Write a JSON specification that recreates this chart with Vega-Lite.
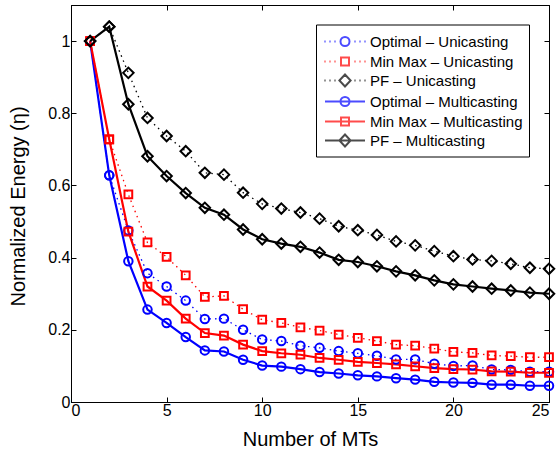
{
  "$schema": "https://vega.github.io/schema/vega-lite/v6.json",
  "width": 478,
  "height": 397,
  "autosize": "none",
  "padding": {"left": 71, "top": 5, "right": 10, "bottom": 53},
  "config": {
    "font": "Liberation Sans",
    "view": {"stroke": "black", "strokeWidth": 1}
  },
  "data": {"values": [
    {"n":1,"e":1,"s":"OU"},{"n":2,"e":0.628,"s":"OU"},{"n":3,"e":0.475,"s":"OU"},{"n":4,"e":0.357,"s":"OU"},{"n":5,"e":0.320,"s":"OU"},{"n":6,"e":0.281,"s":"OU"},{"n":7,"e":0.230,"s":"OU"},{"n":8,"e":0.231,"s":"OU"},{"n":9,"e":0.200,"s":"OU"},{"n":10,"e":0.173,"s":"OU"},{"n":11,"e":0.169,"s":"OU"},{"n":12,"e":0.156,"s":"OU"},{"n":13,"e":0.150,"s":"OU"},{"n":14,"e":0.141,"s":"OU"},{"n":15,"e":0.135,"s":"OU"},{"n":16,"e":0.128,"s":"OU"},{"n":17,"e":0.118,"s":"OU"},{"n":18,"e":0.118,"s":"OU"},{"n":19,"e":0.106,"s":"OU"},{"n":20,"e":0.100,"s":"OU"},{"n":21,"e":0.101,"s":"OU"},{"n":22,"e":0.090,"s":"OU"},{"n":23,"e":0.089,"s":"OU"},{"n":24,"e":0.084,"s":"OU"},{"n":25,"e":0.084,"s":"OU"},
    {"n":1,"e":1,"s":"MU"},{"n":2,"e":0.728,"s":"MU"},{"n":3,"e":0.575,"s":"MU"},{"n":4,"e":0.442,"s":"MU"},{"n":5,"e":0.402,"s":"MU"},{"n":6,"e":0.351,"s":"MU"},{"n":7,"e":0.291,"s":"MU"},{"n":8,"e":0.294,"s":"MU"},{"n":9,"e":0.257,"s":"MU"},{"n":10,"e":0.228,"s":"MU"},{"n":11,"e":0.219,"s":"MU"},{"n":12,"e":0.207,"s":"MU"},{"n":13,"e":0.198,"s":"MU"},{"n":14,"e":0.187,"s":"MU"},{"n":15,"e":0.178,"s":"MU"},{"n":16,"e":0.169,"s":"MU"},{"n":17,"e":0.159,"s":"MU"},{"n":18,"e":0.156,"s":"MU"},{"n":19,"e":0.148,"s":"MU"},{"n":20,"e":0.139,"s":"MU"},{"n":21,"e":0.136,"s":"MU"},{"n":22,"e":0.129,"s":"MU"},{"n":23,"e":0.127,"s":"MU"},{"n":24,"e":0.124,"s":"MU"},{"n":25,"e":0.124,"s":"MU"},
    {"n":1,"e":1,"s":"PU"},{"n":2,"e":1.04,"s":"PU"},{"n":3,"e":0.912,"s":"PU"},{"n":4,"e":0.787,"s":"PU"},{"n":5,"e":0.737,"s":"PU"},{"n":6,"e":0.695,"s":"PU"},{"n":7,"e":0.635,"s":"PU"},{"n":8,"e":0.630,"s":"PU"},{"n":9,"e":0.580,"s":"PU"},{"n":10,"e":0.549,"s":"PU"},{"n":11,"e":0.536,"s":"PU"},{"n":12,"e":0.525,"s":"PU"},{"n":13,"e":0.508,"s":"PU"},{"n":14,"e":0.487,"s":"PU"},{"n":15,"e":0.476,"s":"PU"},{"n":16,"e":0.463,"s":"PU"},{"n":17,"e":0.445,"s":"PU"},{"n":18,"e":0.434,"s":"PU"},{"n":19,"e":0.418,"s":"PU"},{"n":20,"e":0.404,"s":"PU"},{"n":21,"e":0.395,"s":"PU"},{"n":22,"e":0.391,"s":"PU"},{"n":23,"e":0.383,"s":"PU"},{"n":24,"e":0.372,"s":"PU"},{"n":25,"e":0.369,"s":"PU"},
    {"n":1,"e":1,"s":"OM"},{"n":2,"e":0.628,"s":"OM"},{"n":3,"e":0.390,"s":"OM"},{"n":4,"e":0.256,"s":"OM"},{"n":5,"e":0.219,"s":"OM"},{"n":6,"e":0.180,"s":"OM"},{"n":7,"e":0.143,"s":"OM"},{"n":8,"e":0.140,"s":"OM"},{"n":9,"e":0.117,"s":"OM"},{"n":10,"e":0.101,"s":"OM"},{"n":11,"e":0.098,"s":"OM"},{"n":12,"e":0.091,"s":"OM"},{"n":13,"e":0.083,"s":"OM"},{"n":14,"e":0.079,"s":"OM"},{"n":15,"e":0.074,"s":"OM"},{"n":16,"e":0.071,"s":"OM"},{"n":17,"e":0.066,"s":"OM"},{"n":18,"e":0.062,"s":"OM"},{"n":19,"e":0.056,"s":"OM"},{"n":20,"e":0.054,"s":"OM"},{"n":21,"e":0.053,"s":"OM"},{"n":22,"e":0.048,"s":"OM"},{"n":23,"e":0.048,"s":"OM"},{"n":24,"e":0.045,"s":"OM"},{"n":25,"e":0.045,"s":"OM"},
    {"n":1,"e":1,"s":"MM"},{"n":2,"e":0.728,"s":"MM"},{"n":3,"e":0.472,"s":"MM"},{"n":4,"e":0.320,"s":"MM"},{"n":5,"e":0.281,"s":"MM"},{"n":6,"e":0.231,"s":"MM"},{"n":7,"e":0.191,"s":"MM"},{"n":8,"e":0.184,"s":"MM"},{"n":9,"e":0.159,"s":"MM"},{"n":10,"e":0.141,"s":"MM"},{"n":11,"e":0.135,"s":"MM"},{"n":12,"e":0.131,"s":"MM"},{"n":13,"e":0.122,"s":"MM"},{"n":14,"e":0.117,"s":"MM"},{"n":15,"e":0.111,"s":"MM"},{"n":16,"e":0.108,"s":"MM"},{"n":17,"e":0.104,"s":"MM"},{"n":18,"e":0.099,"s":"MM"},{"n":19,"e":0.094,"s":"MM"},{"n":20,"e":0.091,"s":"MM"},{"n":21,"e":0.090,"s":"MM"},{"n":22,"e":0.085,"s":"MM"},{"n":23,"e":0.084,"s":"MM"},{"n":24,"e":0.081,"s":"MM"},{"n":25,"e":0.081,"s":"MM"},
    {"n":1,"e":1,"s":"PM"},{"n":2,"e":1.04,"s":"PM"},{"n":3,"e":0.825,"s":"PM"},{"n":4,"e":0.681,"s":"PM"},{"n":5,"e":0.626,"s":"PM"},{"n":6,"e":0.579,"s":"PM"},{"n":7,"e":0.538,"s":"PM"},{"n":8,"e":0.519,"s":"PM"},{"n":9,"e":0.478,"s":"PM"},{"n":10,"e":0.451,"s":"PM"},{"n":11,"e":0.439,"s":"PM"},{"n":12,"e":0.430,"s":"PM"},{"n":13,"e":0.414,"s":"PM"},{"n":14,"e":0.394,"s":"PM"},{"n":15,"e":0.388,"s":"PM"},{"n":16,"e":0.376,"s":"PM"},{"n":17,"e":0.362,"s":"PM"},{"n":18,"e":0.351,"s":"PM"},{"n":19,"e":0.337,"s":"PM"},{"n":20,"e":0.326,"s":"PM"},{"n":21,"e":0.320,"s":"PM"},{"n":22,"e":0.314,"s":"PM"},{"n":23,"e":0.309,"s":"PM"},{"n":24,"e":0.303,"s":"PM"},{"n":25,"e":0.300,"s":"PM"}
  ]},
  "resolve": {"axis": {"x": "independent", "y": "independent"}},
  "layer": [
    {
      "transform": [{"filter": "datum.n > 100"}],
      "mark": {"type": "point", "filled": false, "strokeWidth": 2},
      "encoding": {
        "x": {"field": "n", "type": "quantitative", "scale": {"domain": [0, 25], "nice": false, "zero": false},
              "axis": {"orient": "top", "values": [0,5,10,15,20,25], "labels": false, "grid": false, "title": null, "tickSize": -5, "tickColor": "black", "domainColor": "black"}},
        "y": {"field": "e", "type": "quantitative", "scale": {"domain": [0, 1.1], "nice": false},
              "axis": {"orient": "right", "values": [0,0.2,0.4,0.6,0.8,1], "labels": false, "grid": false, "title": null, "tickSize": -5, "tickColor": "black", "domainColor": "black"}},
        "color": {"field": "s", "type": "nominal",
          "scale": {"domain": ["OU","MU","PU","OM","MM","PM"], "range": ["#0000ff","#ff0000","#000000","#0000ff","#ff0000","#000000"]},
          "legend": {
            "title": null, "orient": "none", "legendX": 245, "legendY": 19.5,
            "strokeColor": "black", "fillColor": "white", "padding": 6, "cornerRadius": 0,
            "labelFontSize": 15, "labelColor": "black", "labelOffset": 26, "rowPadding": 0,
            "symbolSize": 400, "symbolStrokeWidth": 2,
            "labelExpr": "datum.value=='OU'?'Optimal – Unicasting':datum.value=='MU'?'Min Max – Unicasting':datum.value=='PU'?'PF – Unicasting':datum.value=='OM'?'Optimal – Multicasting':datum.value=='MM'?'Min Max – Multicasting':'PF – Multicasting'"
          }},
        "shape": {"field": "s", "type": "nominal",
          "scale": {"domain": ["OU","MU","PU","OM","MM","PM"], "range": [
            "M-0.86,0h0.12M-0.36,0h0.12M0.14,0h0.12M2.14,0h0.12M2.64,0h0.12M3.14,0h0.12M1.65,0A0.45,0.45,0,1,1,0.75,0A0.45,0.45,0,1,1,1.65,0",
            "M-0.86,0h0.12M-0.36,0h0.12M0.14,0h0.12M2.14,0h0.12M2.64,0h0.12M3.14,0h0.12M0.8,-0.4H1.6V0.4H0.8Z",
            "M-0.86,0h0.12M-0.36,0h0.12M0.14,0h0.12M2.14,0h0.12M2.64,0h0.12M3.14,0h0.12M0.64,0L1.2,-0.6L1.76,0L1.2,0.6Z",
            "M-0.8,0H3.2M1.65,0A0.45,0.45,0,1,1,0.75,0A0.45,0.45,0,1,1,1.65,0",
            "M-0.8,0H3.2M0.8,-0.4H1.6V0.4H0.8Z",
            "M-0.8,0H3.2M0.64,0L1.2,-0.6L1.76,0L1.2,0.6Z"
          ]},
          "legend": {"title": null, "orient": "none", "legendX": 245, "legendY": 19.5, "symbolSize": 400}}
      }
    },
    {
      "transform": [{"filter": "datum.s[1] == 'U'"}],
      "mark": {"type": "line", "strokeWidth": 1.3, "strokeDash": [1.5, 4]},
      "encoding": {
        "x": {"field": "n", "type": "quantitative", "axis": null},
        "y": {"field": "e", "type": "quantitative", "axis": null},
        "color": {"field": "s", "type": "nominal"},
        "detail": {"field": "s"}
      }
    },
    {
      "transform": [{"filter": "datum.s[1] == 'M'"}],
      "mark": {"type": "line", "strokeWidth": 2.2},
      "encoding": {
        "x": {"field": "n", "type": "quantitative",
              "axis": {"orient": "bottom", "values": [0,5,10,15,20,25], "title": "Number of MTs", "titleFontSize": 20, "titleFontWeight": "normal", "titleColor": "black", "labelFontSize": 16, "labelColor": "black", "tickSize": -5, "tickColor": "black", "domainColor": "black", "gridColor": "#333", "gridDash": [1, 3], "gridWidth": 0.8, "labelPadding": 5, "titleY": 37, "titleBaseline": "middle"}},
        "y": {"field": "e", "type": "quantitative",
              "axis": {"orient": "left", "values": [0,0.2,0.4,0.6,0.8,1], "format": "~g", "title": "Normalized Energy (η)", "titleFontSize": 20, "titleFontWeight": "normal", "titleColor": "black", "labelFontSize": 16, "labelColor": "black", "tickSize": -5, "tickColor": "black", "domainColor": "black", "gridColor": "#333", "gridDash": [1, 3], "gridWidth": 0.8, "labelPadding": 6, "titleX": -53, "titleY": 201, "titleBaseline": "middle"}},
        "color": {"field": "s", "type": "nominal"},
        "detail": {"field": "s"}
      }
    },
    {
      "transform": [{"filter": "datum.s[0] == 'O'"}],
      "mark": {"type": "point", "shape": "circle", "filled": false, "size": 72, "strokeWidth": 2, "opacity": 1},
      "encoding": {
        "x": {"field": "n", "type": "quantitative", "axis": null},
        "y": {"field": "e", "type": "quantitative", "axis": null},
        "color": {"field": "s", "type": "nominal"}
      }
    },
    {
      "transform": [{"filter": "datum.s[0] == 'M'"}],
      "mark": {"type": "point", "shape": "square", "filled": false, "size": 60, "strokeWidth": 2, "opacity": 1},
      "encoding": {
        "x": {"field": "n", "type": "quantitative", "axis": null},
        "y": {"field": "e", "type": "quantitative", "axis": null},
        "color": {"field": "s", "type": "nominal"}
      }
    },
    {
      "transform": [{"filter": "datum.s[0] == 'P'"}],
      "mark": {"type": "point", "shape": "diamond", "filled": false, "size": 110, "strokeWidth": 2, "opacity": 1},
      "encoding": {
        "x": {"field": "n", "type": "quantitative", "axis": null},
        "y": {"field": "e", "type": "quantitative", "axis": null},
        "color": {"field": "s", "type": "nominal"}
      }
    }
  ]
}
